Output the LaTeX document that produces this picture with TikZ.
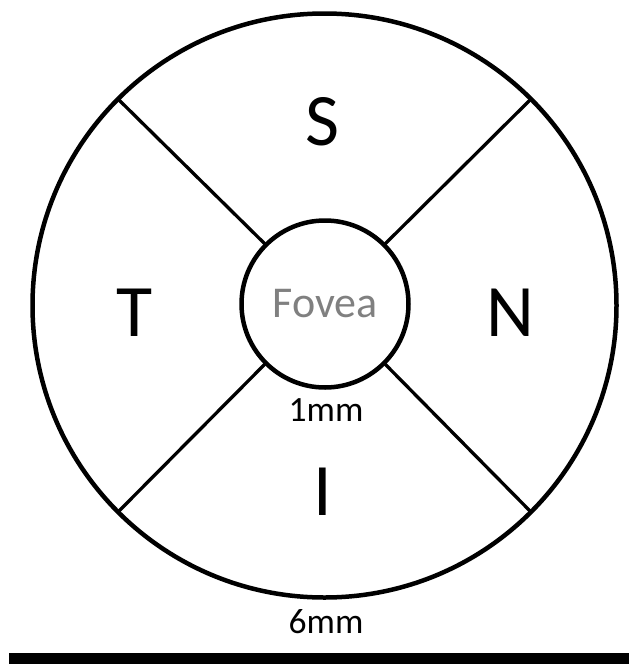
\documentclass[tikz,border=0pt]{standalone}
\usepackage{fontspec}
\setmainfont{Carlito}
\begin{document}
\begin{tikzpicture}[x=1pt,y=-1pt,
  ring/.style={circle,draw,line width=4.5pt,inner sep=0pt,outer sep=0pt},
  divider/.style={line width=3.3pt},
  sector/.style={font=\fontsize{74}{74}\selectfont},
  dim/.style={font=\fontsize{35.5}{35.5}\selectfont}]
\useasboundingbox (0,0) rectangle (629,664);
\node[ring,minimum size=584pt] (outer) at (324.5,305.5) {};
\node[ring,minimum size=167pt,text=black!50,font=\fontsize{44}{44}\selectfont] (fovea) at (325,304) {Fovea};
\foreach \a in {45,135,225,315}
  \draw[divider] (outer.\a) -- (fovea.\a);
\node[sector] (S) at (322,122) {S};
\node[sector] (T) at (135,313) {T};
\node[sector] (N) at (510,313) {N};
\node[sector] (I) at (323,492) {I};
\node[dim] (one) at (326,410) {1mm};
\node[dim] (six) at (326,622) {6mm};
\fill (9,653) rectangle (629,664);
\end{tikzpicture}
\end{document}
